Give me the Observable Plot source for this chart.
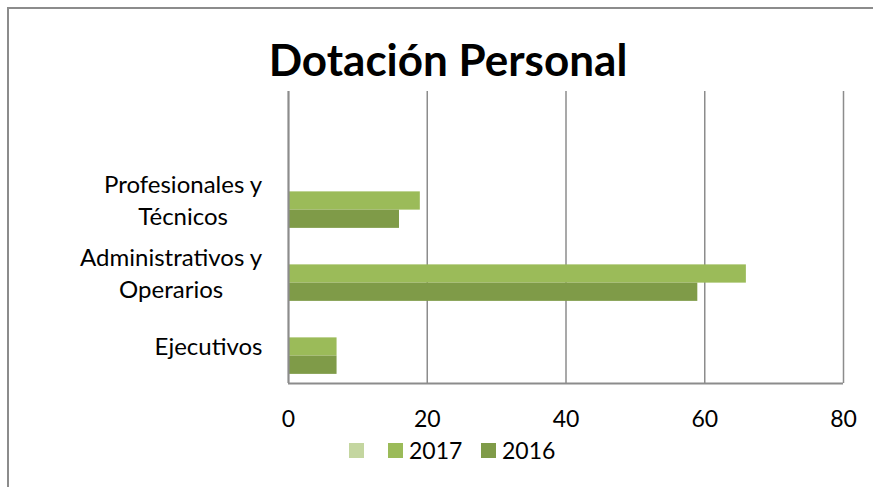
<!DOCTYPE html>
<html>
<head>
<meta charset="utf-8">
<script src="https://cdn.jsdelivr.net/npm/d3@7"></script>
<script src="https://cdn.jsdelivr.net/npm/@observablehq/plot@0.6"></script>
<style>
  html, body { margin: 0; padding: 0; background: #fff; }
  #wrap { position: relative; width: 873px; height: 487px; overflow: hidden; font-family: Lato, "Noto Sans", sans-serif; }
  #frame { position: absolute; left: 7px; top: 7px; width: 900px; height: 520px; border-left: 2px solid #8c8c8c; border-top: 2px solid #8c8c8c; box-sizing: border-box; }
  #title { position: absolute; left: 0; width: 896px; top: 33px; text-align: center; font-weight: bold; font-size: 44px; line-height: 52px; color: #000; }
  #chart { position: absolute; left: 0; top: 0; }
  #legend { position: absolute; top: 438px; left: 349px; height: 24px; font-size: 23px; color: #000; }
  .item { position: absolute; top: 0; display: flex; align-items: center; height: 24px; white-space: nowrap; }
  .sw { width: 15px; height: 15px; display: inline-block; margin-right: 6px; }
</style>
</head>
<body>
<div id="wrap">
  <div id="frame"></div>
  <div id="title">Dotación Personal</div>
  <div id="chart"></div>
  <div id="legend"></div>
</div>
<script>
// ---- data ----
const categories = ["", "Profesionales y\nTécnicos", "Administrativos y\nOperarios", "Ejecutivos"];
const series = ["", "2017", "2016"];
const values2017 = [null, 19, 66, 7];
const values2016 = [null, 16, 59, 7];
const xTicks = [0, 20, 40, 60, 80];
const colors = ["#C4D6A0", "#9BBB59", "#7F9B48"];

const rows2017 = categories.map((c, i) => ({cat: c, v: values2017[i]})).filter(d => d.v != null);
const rows2016 = categories.map((c, i) => ({cat: c, v: values2016[i]})).filter(d => d.v != null);

const labelSize = 24;
const ctx = document.createElement("canvas").getContext("2d");
ctx.font = labelSize + "px Lato";
function blockWidth(s) { return Math.max(...s.split("\n").map(l => ctx.measureText(l).width)); }

const W = 873, H = 487, mL = 288, mR = 30, mT = 91, mB = 104;
const band = (H - mT - mB) / categories.length;
const barH = band / 4;
const inset = (band - barH) / 2;

const labelMarks = categories.filter(c => c !== "").map(c =>
  Plot.text([c], {
    y: d => d, text: d => d, frameAnchor: "left", textAnchor: "middle",
    lineAnchor: "middle", lineHeight: 1.33,
    dx: -(26 + blockWidth(c) / 2), dy: -2, fontSize: labelSize, fill: "#000"
  })
);

const chart = Plot.plot({
  width: W, height: H,
  marginLeft: mL, marginRight: mR, marginTop: mT, marginBottom: mB,
  style: {fontFamily: "Lato, 'Noto Sans', sans-serif", background: "transparent", overflow: "visible"},
  x: {domain: [0, 80], ticks: xTicks, axis: null},
  y: {domain: categories, type: "band", padding: 0, axis: null},
  marks: [
    Plot.ruleX(xTicks.slice(1), {stroke: "#8c8c8c", strokeWidth: 1.5, strokeOpacity: 1}),
    Plot.barX(rows2017, {x: "v", y: "cat", fill: colors[1], insetTop: inset, insetBottom: inset, dy: 0}),
    Plot.barX(rows2016, {x: "v", y: "cat", fill: colors[2], insetTop: inset, insetBottom: inset, dy: barH}),
    Plot.ruleX([0], {stroke: "#8c8c8c", strokeWidth: 2.2, strokeOpacity: 1}),
    Plot.ruleY([0], {y: () => categories[categories.length - 1], stroke: "#8c8c8c", strokeWidth: 2.2, dy: band / 2}),
    Plot.axisX({ticks: xTicks, tickSize: 0, tickPadding: 27, fontSize: 23, fill: "#000", label: null}),
    ...labelMarks
  ]
});
document.getElementById("chart").appendChild(chart);

// legend
const legend = document.getElementById("legend");
const lx = [0, 39, 132];
series.forEach((s, i) => {
  const it = document.createElement("div");
  it.className = "item";
  it.style.left = lx[i] + "px";
  it.innerHTML = `<span class="sw" style="background:${colors[i]}"></span><span>${s}</span>`;
  legend.appendChild(it);
});
</script>
</body>
</html>
